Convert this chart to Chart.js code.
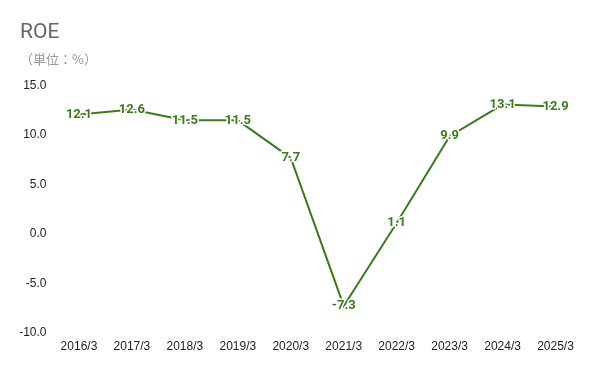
<!DOCTYPE html>
<html>
<head>
<meta charset="utf-8">
<script src="https://cdn.jsdelivr.net/npm/chart.js@4.4.1/dist/chart.umd.min.js"></script>
<style>
  html, body { margin: 0; padding: 0; background: #fff; }
  #wrap { width: 600px; height: 371px; position: relative; }
</style>
</head>
<body>
<div id="wrap"><canvas id="roeChart"></canvas></div>
<script>
// Fiscal years (March year-end) and ROE in %
const years = ['2016/3', '2017/3', '2018/3', '2019/3', '2020/3', '2021/3', '2022/3', '2023/3', '2024/3', '2025/3'];
const roe   = [12.1, 12.6, 11.5, 11.5, 7.7, -7.3, 1.1, 9.9, 13.1, 12.9];

const GREEN = '#3b7a1f';
const LABEL_FONT = 'Roboto, sans-serif';
const TICK_FONT  = '"Liberation Sans", Arial, sans-serif';

// value labels centred on each point, white halo so the line shows only between glyphs
const valueLabels = {
  id: 'valueLabels',
  afterDatasetsDraw(chart) {
    const ctx = chart.ctx;
    const meta = chart.getDatasetMeta(0);
    ctx.save();
    ctx.font = 'bold 13px ' + LABEL_FONT;
    ctx.textAlign = 'center';
    ctx.textBaseline = 'middle';
    ctx.lineJoin = 'round';
    meta.data.forEach((pt, i) => {
      const txt = roe[i].toFixed(1);
      ctx.strokeStyle = '#fff';
      ctx.lineWidth = 3;
      ctx.strokeText(txt, pt.x, pt.y);
      ctx.fillStyle = GREEN;
      ctx.fillText(txt, pt.x, pt.y);
    });
    ctx.restore();
  }
};

new Chart(document.getElementById('roeChart'), {
  type: 'line',
  data: {
    labels: years,
    datasets: [{
      data: roe,
      borderColor: GREEN,
      borderWidth: 2,
      pointRadius: 0,
      tension: 0,
      fill: false
    }]
  },
  options: {
    responsive: true,
    maintainAspectRatio: false,
    animation: false,
    layout: { padding: { left: 20, right: 18, top: 0, bottom: 10 } },
    plugins: {
      legend: { display: false },
      tooltip: { enabled: false },
      title: {
        display: true,
        text: 'ROE',
        align: 'start',
        color: '#666',
        font: { family: 'Roboto, sans-serif', size: 21, weight: 'normal', lineHeight: 1.2 },
        padding: { top: 20, bottom: 6 }
      },
      subtitle: {
        display: true,
        text: '（単位：%）',
        align: 'start',
        color: '#999',
        font: { family: '"Noto Sans CJK JP", sans-serif', size: 13, lineHeight: 1.2 },
        padding: { top: 0, bottom: 19 }
      }
    },
    scales: {
      x: {
        offset: true,
        grid: { display: false, drawTicks: false },
        border: { display: false },
        ticks: { color: '#222', font: { family: TICK_FONT, size: 12 }, maxRotation: 0, padding: 7 }
      },
      y: {
        min: -10,
        max: 15,
        grid: { display: false, drawTicks: false },
        border: { display: false },
        afterFit: scale => { scale.width = 32.5; },
        ticks: {
          stepSize: 5,
          color: '#222',
          padding: 6,
          font: { family: TICK_FONT, size: 12 },
          callback: v => v.toFixed(1)
        }
      }
    }
  },
  plugins: [valueLabels]
});
</script>
</body>
</html>
